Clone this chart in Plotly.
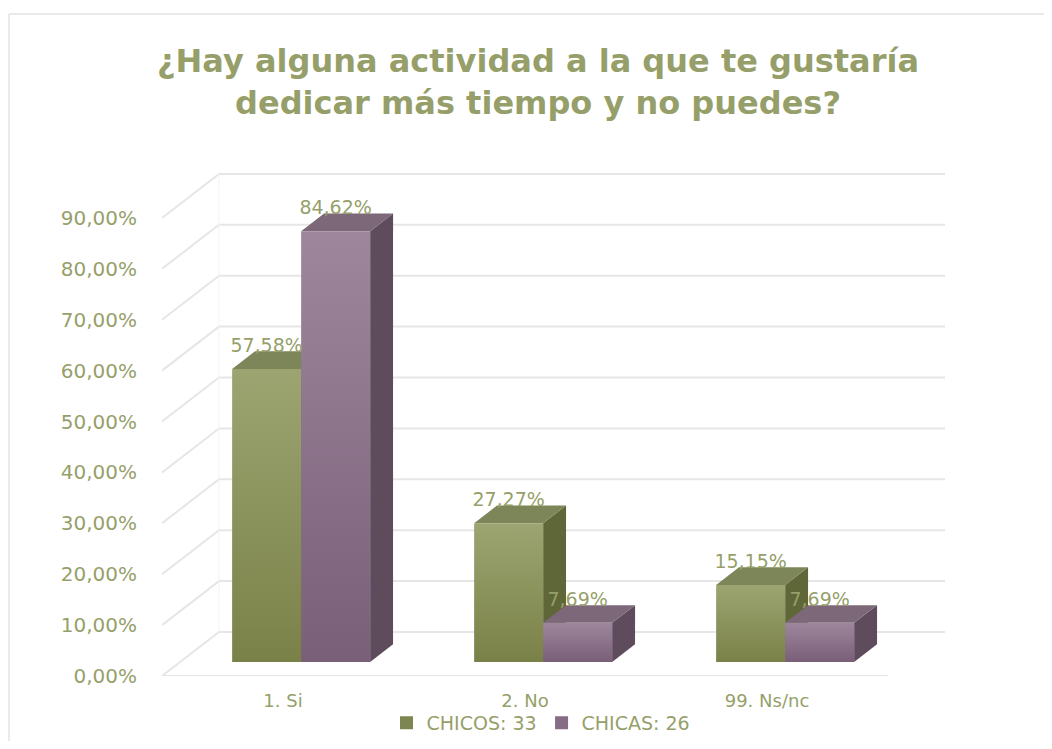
import plotly.graph_objects as go

# ---------------- data ----------------
categories = ["1. Si", "2. No", "99. Ns/nc"]
chicos = [0.5758, 0.2727, 0.1515]
chicas = [0.8462, 0.0769, 0.0769]
series_names = ["CHICOS: 33", "CHICAS: 26"]
y_ticks = [0.0, 0.1, 0.2, 0.3, 0.4, 0.5, 0.6, 0.7, 0.8, 0.9]
title_text = "¿Hay alguna actividad a la que te gustaría<br>dedicar más tiempo y no puedes?"

# ---------------- style / geometry ----------------
OFF = 8  # page body margin
W, H = 1052 - 2 * OFF, 749 - 2 * OFF   # fit inside the window (no scrollbars)
PX_L, PX_R, PX_T, PX_B = 162 - OFF, 946 - OFF, 150 - OFF, 676 - OFF   # figure pixel coords
XU = 242.0   # px per category unit
YU = 509.0   # px per 100 %
XR = [-0.5, -0.5 + (PX_R - PX_L) / XU]
YR = [0.0, (PX_B - PX_T) / YU]
DX = 57 / XU          # full depth shift (front -> back wall)
DY = 44 / YU
F0, F1 = 0.318, 0.72  # bar front / back depth
BW = 69 / XU          # bar width
TXT = "#969f6a"
GRID = "#e6e6e6"
FONT = "DejaVu Sans"

colors = {
    0: dict(top="#7d8659", side="#5f6739", g_top="#9ca571", g_bot="#7a8148", leg="#7d8650"),
    1: dict(top="#7c6879", side="#5e4c5d", g_top="#9e879d", g_bot="#795f78", leg="#866c84"),
}


def proj(x, y, d):
    return x + d * DX, y + d * DY


def poly(pts):
    xs = [p[0] for p in pts] + [pts[0][0]]
    ys = [p[1] for p in pts] + [pts[0][1]]
    return xs, ys


def px2paper_x(px):  # page px -> paper
    return (px - OFF - PX_L) / (PX_R - PX_L)


def px2paper_y(py):
    return (PX_B - (py - OFF)) / (PX_B - PX_T)


fig = go.Figure()

# ---- walls / gridlines ----
x_left, x_right = -0.5, 2.5
for t in y_ticks:
    a = proj(x_left, t, 0)
    b = proj(x_left, t, 1)
    c = proj(x_right, t, 1)
    fig.add_trace(go.Scatter(x=[a[0], b[0], c[0]], y=[a[1], b[1], c[1]], mode="lines",
                             line=dict(color=GRID, width=2), hoverinfo="skip", showlegend=False))
# floor front edge
f_a = proj(x_left, 0, 0)
f_b = proj(x_right, 0, 0)
fig.add_trace(go.Scatter(x=[f_a[0], f_b[0]], y=[f_a[1], f_b[1]], mode="lines",
                         line=dict(color=GRID, width=2), hoverinfo="skip", showlegend=False))
v_a = proj(x_left, 0, 1)
v_b = proj(x_left, y_ticks[-1], 1)
fig.add_trace(go.Scatter(x=[v_a[0], v_b[0]], y=[v_a[1], v_b[1]], mode="lines",
                         line=dict(color="#f3f3f3", width=1), hoverinfo="skip", showlegend=False))

# ---- 3D bars ----
series = [chicos, chicas]
for i, cat in enumerate(categories):
    for s, vals in enumerate(series):
        v = vals[i]
        col = colors[s]
        xl = i - BW + s * BW
        xr = xl + BW
        # side face
        pts = [proj(xr, 0, F0), proj(xr, v, F0), proj(xr, v, F1), proj(xr, 0, F1)]
        xs, ys = poly(pts)
        fig.add_trace(go.Scatter(x=xs, y=ys, fill="toself", fillcolor=col["side"], mode="lines",
                                 line=dict(width=0, color=col["side"]), hoverinfo="skip",
                                 showlegend=False))
        # top face
        pts = [proj(xl, v, F0), proj(xr, v, F0), proj(xr, v, F1), proj(xl, v, F1)]
        xs, ys = poly(pts)
        fig.add_trace(go.Scatter(x=xs, y=ys, fill="toself", fillcolor=col["top"], mode="lines",
                                 line=dict(width=0, color=col["top"]), hoverinfo="skip",
                                 showlegend=False))
        # front face
        pts = [proj(xl, 0, F0), proj(xr, 0, F0), proj(xr, v, F0), proj(xl, v, F0)]
        xs, ys = poly(pts)
        fig.add_trace(go.Scatter(x=xs, y=ys, fill="toself", mode="lines",
                                 fillgradient=dict(type="vertical",
                                                   colorscale=[[0, col["g_bot"]], [1, col["g_top"]]]),
                                 line=dict(width=0, color=col["g_top"]),
                                 name=series_names[s], text=[f"{cat}: {v*100:.2f}%"] * len(xs),
                                 hoverinfo="text", showlegend=False))

# ---- data labels ----
for s, vals in enumerate(series):
    xs, ys, tx = [], [], []
    for i, v in enumerate(vals):
        xl = i - BW + s * BW
        cx = xl + BW / 2 + F0 * DX
        xs.append(cx)
        ys.append(v + 0.6 * DY)
        tx.append(f"{v*100:.2f}".replace(".", ",") + "%")
    fig.add_trace(go.Scatter(x=xs, y=ys, mode="text", text=tx, textposition="top center",
                             textfont=dict(family=FONT, size=19, color=TXT),
                             hoverinfo="skip", showlegend=False))

# ---- legend entries ----
for s in range(2):
    fig.add_trace(go.Scatter(x=[None], y=[None], mode="markers", name=series_names[s],
                             marker=dict(symbol="square", size=13, color=colors[s]["leg"])))

# outer border (top and left edges only; others fall outside the view)
border = dict(color="#e3e3e0", width=1.5)
fig.add_shape(type="line", xref="paper", yref="paper", layer="below",
              x0=px2paper_x(9), x1=px2paper_x(1100), y0=px2paper_y(14), y1=px2paper_y(14),
              line=border)
fig.add_shape(type="line", xref="paper", yref="paper", layer="below",
              x0=px2paper_x(9), x1=px2paper_x(9), y0=px2paper_y(14), y1=px2paper_y(800),
              line=border)

fig.update_layout(
    width=W, height=H,
    margin=dict(l=PX_L, r=W - PX_R, t=PX_T, b=H - PX_B, autoexpand=False),
    paper_bgcolor="white", plot_bgcolor="white",
    separators=",.",
    font=dict(family=FONT, color=TXT, size=19),
    title=dict(text=title_text, x=(538 - OFF) / W, xanchor="center", y=1 - 64 / H, yanchor="top",
               yref="container",
               font=dict(family=FONT, size=32, color=TXT, weight="bold")),
    xaxis=dict(range=XR, tickvals=[0, 1, 2], ticktext=categories, showgrid=False,
               zeroline=False, showline=False, ticks="outside", ticklen=8,
               tickcolor="rgba(0,0,0,0)", tickfont=dict(family=FONT, size=18, color=TXT),
               fixedrange=True),
    yaxis=dict(range=YR, tickvals=y_ticks, tickformat=".2%", showgrid=False, zeroline=False,
               showline=False, ticks="outside", ticklen=20, tickcolor="rgba(0,0,0,0)",
               tickfont=dict(family=FONT, size=20, color=TXT), fixedrange=True),
    legend=dict(orientation="h", x=px2paper_x(541), xanchor="center", y=px2paper_y(723),
                yanchor="middle", font=dict(family=FONT, size=19, color=TXT),
                bgcolor="rgba(0,0,0,0)", itemwidth=30, tracegroupgap=0),
    showlegend=True,
)

fig.write_html("out.html")
